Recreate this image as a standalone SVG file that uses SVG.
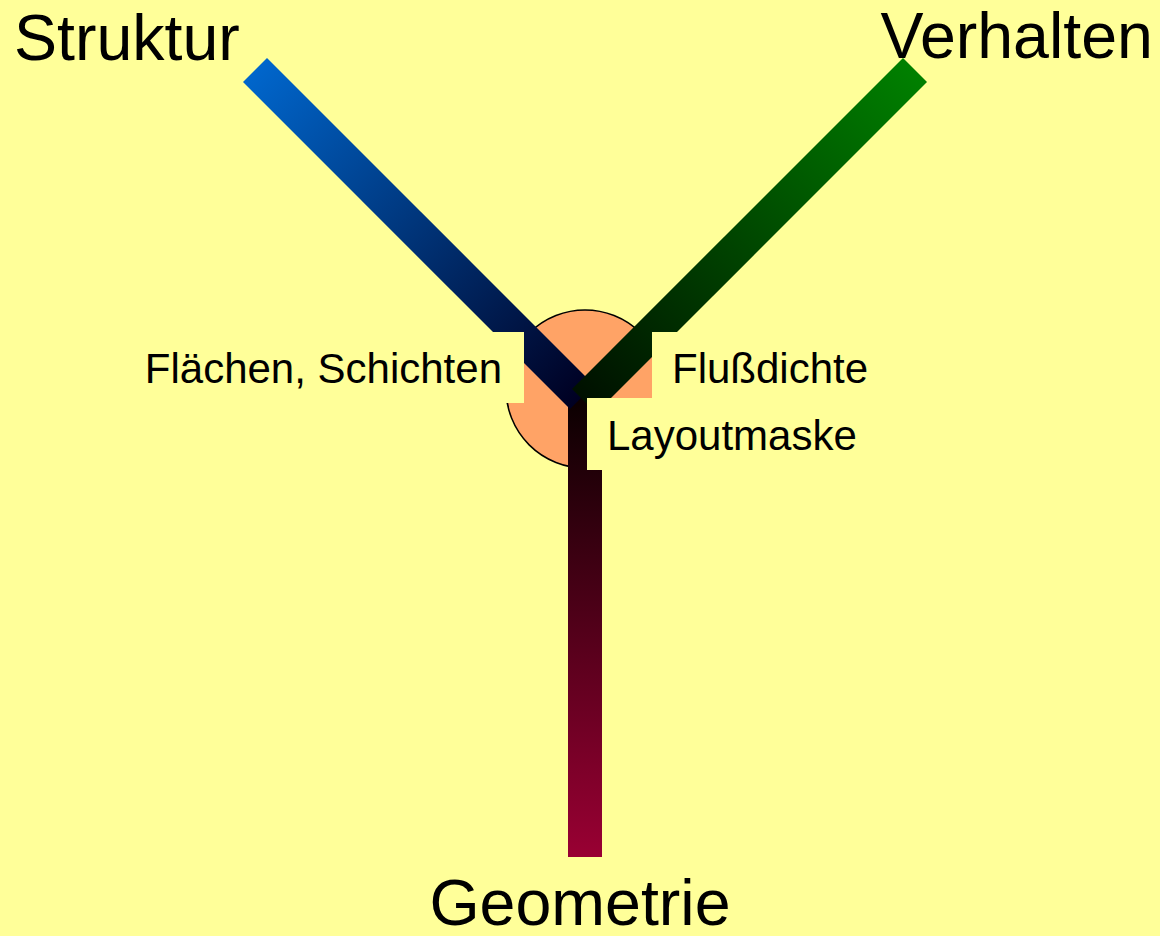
<svg xmlns="http://www.w3.org/2000/svg" width="1160" height="936" viewBox="0 0 1160 936">
  <defs>
    <style>
      .big { font-family: "Liberation Sans", Arial, sans-serif; font-size: 64.5px; fill: #000; }
      .small { font-family: "Liberation Sans", Arial, sans-serif; font-size: 42px; fill: #000; }
      .labelbg { fill: #FFFF99; stroke: none; }
      .bar { fill: none; stroke-width: 34; stroke-linecap: butt; }
    </style>
    <linearGradient id="gBlue" gradientUnits="userSpaceOnUse" x1="255" y1="70" x2="582" y2="397">
      <stop offset="0" stop-color="#0066CC"/>
      <stop offset="1" stop-color="#000022"/>
    </linearGradient>
    <linearGradient id="gGreen" gradientUnits="userSpaceOnUse" x1="915" y1="70" x2="584" y2="401">
      <stop offset="0" stop-color="#008000"/>
      <stop offset="1" stop-color="#001000"/>
    </linearGradient>
    <linearGradient id="gRed" gradientUnits="userSpaceOnUse" x1="0" y1="395" x2="0" y2="857">
      <stop offset="0" stop-color="#0a0000"/>
      <stop offset="1" stop-color="#990033"/>
    </linearGradient>
  </defs>
  <rect x="0" y="0" width="1160" height="936" fill="#FFFF99"/>

  <g id="hub">
    <circle cx="585" cy="389" r="79" fill="#FFA366" stroke="#000" stroke-width="1.5"/>
  </g>

  <g id="connectors">
    <line class="bar" x1="585" y1="395" x2="585" y2="857" stroke="url(#gRed)"/>
    <line class="bar" x1="255" y1="70" x2="582" y2="397" stroke="url(#gBlue)"/>
    <line class="bar" x1="915" y1="70" x2="584" y2="401" stroke="url(#gGreen)"/>
  </g>

  <g id="label-flaechen">
    <rect class="labelbg" x="140" y="332" width="384" height="71"/>
    <text class="small" x="502" y="383" text-anchor="end">Flächen, Schichten</text>
  </g>
  <g id="label-flussdichte">
    <rect class="labelbg" x="652" y="332" width="225" height="66"/>
    <text class="small" x="672" y="383">Flußdichte</text>
  </g>
  <g id="label-layoutmaske">
    <rect class="labelbg" x="587" y="398" width="280" height="72"/>
    <text class="small" x="607" y="450">Layoutmaske</text>
  </g>

  <g id="node-struktur">
    <text class="big" x="14" y="60">Struktur</text>
  </g>
  <g id="node-verhalten">
    <text class="big" x="1153" y="58" text-anchor="end">Verhalten</text>
  </g>
  <g id="node-geometrie">
    <text class="big" x="580" y="925" text-anchor="middle">Geometrie</text>
  </g>
</svg>
